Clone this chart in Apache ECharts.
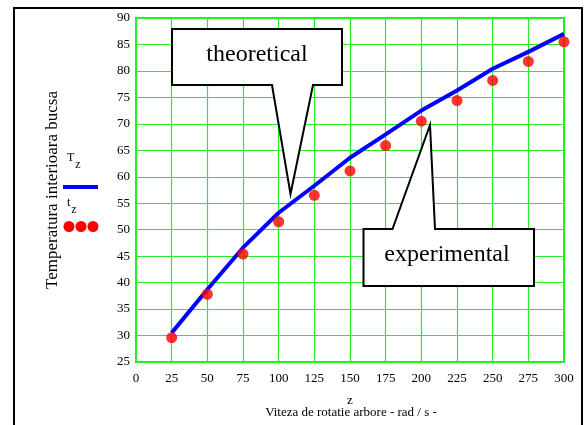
<!DOCTYPE html>
<html><head><meta charset="utf-8">
<script src="https://cdn.jsdelivr.net/npm/echarts@6/dist/echarts.min.js"></script>
<style>html,body{margin:0;padding:0;background:#fff}#c{width:585px;height:425px}</style>
</head><body><div id="c"></div>
<script>
var z = [25, 50, 75, 100, 125, 150, 175, 200, 225, 250, 275, 300];
var Tz = [30.5, 38.7, 46.6, 53.2, 58.3, 63.6, 68.0, 72.5, 76.3, 80.4, 83.6, 87.0];
var tz = [29.6, 37.8, 45.4, 51.5, 56.5, 61.1, 65.9, 70.5, 74.4, 78.2, 81.8, 85.5];
var xTicks = [0, 300, 25];
var yTicks = [25, 90, 5];

var F = '"Liberation Serif","DejaVu Serif",serif';
var G = '#22ee22';
var chart = echarts.init(document.getElementById('c'), null, {renderer: 'canvas'});
chart.setOption({
  animation: false,
  backgroundColor: '#fff',
  grid: {left: 136, right: 21, top: 18, bottom: 63, show: true, borderColor: G, borderWidth: 2, backgroundColor: 'transparent'},
  xAxis: {
    type: 'value', min: xTicks[0], max: xTicks[1], interval: xTicks[2],
    name: 'z', nameLocation: 'middle', nameGap: 32,
    nameTextStyle: {fontFamily: F, fontSize: 13, color: '#000'},
    axisLine: {show: true, lineStyle: {color: G, width: 2}},
    axisTick: {show: false},
    axisLabel: {fontFamily: F, fontSize: 13, color: '#000', margin: 10},
    splitLine: {show: true, lineStyle: {color: G, width: 1.2}}
  },
  yAxis: {
    type: 'value', min: yTicks[0], max: yTicks[1], interval: yTicks[2],
    axisLine: {show: true, lineStyle: {color: G, width: 2}},
    axisTick: {show: false},
    axisLabel: {fontFamily: F, fontSize: 13, color: '#000', margin: 6},
    splitLine: {show: true, lineStyle: {color: G, width: 1.2}}
  },
  series: [
    {type: 'line', data: z.map(function(v, i){return [v, Tz[i]];}), showSymbol: false, symbol: 'none',
     lineStyle: {color: '#0000ff', width: 4}, z: 3},
    {type: 'scatter', data: z.map(function(v, i){return [v, tz[i]];}), symbol: 'circle', symbolSize: 11,
     itemStyle: {color: '#ff0000'}, z: 4}
  ],
  graphic: [
    {type: 'rect', shape: {x: 14, y: 8, width: 568, height: 430}, style: {fill: 'none', stroke: '#000', lineWidth: 2}, z: 10},
    {type: 'text', style: {x: 351, y: 413, text: 'Viteza de rotatie arbore - rad / s -', font: '13px ' + F, fill: '#000', textAlign: 'center', textVerticalAlign: 'middle'}},
    {type: 'text', rotation: Math.PI / 2, x: 53, y: 190, style: {x: 0, y: 0, text: 'Temperatura interioara bucsa', font: '17px ' + F, fill: '#000', textAlign: 'center', textVerticalAlign: 'middle'}},
    {type: 'text', style: {x: 67, y: 158, text: '{a|T}{b|z}', rich: {a: {fontFamily: F, fontSize: 12, fill: '#000'}, b: {fontFamily: F, fontSize: 12, fill: '#000', padding: [14, 0, 0, 1]}}, textVerticalAlign: 'middle'}},
    {type: 'line', shape: {x1: 63, y1: 187, x2: 98, y2: 187}, style: {stroke: '#0000ff', lineWidth: 4}},
    {type: 'text', style: {x: 67, y: 203, text: '{a|t}{b|z}', rich: {a: {fontFamily: F, fontSize: 12, fill: '#000'}, b: {fontFamily: F, fontSize: 12, fill: '#000', padding: [14, 0, 0, 1]}}, textVerticalAlign: 'middle'}},
    {type: 'circle', shape: {cx: 69, cy: 226.5, r: 5.5}, style: {fill: '#ff0000'}},
    {type: 'circle', shape: {cx: 81, cy: 226.5, r: 5.5}, style: {fill: '#ff0000'}},
    {type: 'circle', shape: {cx: 93, cy: 226.5, r: 5.5}, style: {fill: '#ff0000'}},
    {type: 'polygon', shape: {points: [[172, 29], [342, 29], [342, 85], [313, 85], [290.5, 194], [272, 85], [172, 85]]},
     style: {fill: '#fff', stroke: '#000', lineWidth: 2}, z: 20},
    {type: 'text', style: {x: 257, y: 55, text: 'theoretical', font: '24px ' + F, fill: '#000', textAlign: 'center', textVerticalAlign: 'middle'}, z: 21},
    {type: 'polygon', shape: {points: [[363.5, 229], [392.5, 229], [430, 125], [435, 229], [534, 229], [534, 286], [363.5, 286]]},
     style: {fill: '#fff', stroke: '#000', lineWidth: 2}, z: 20},
    {type: 'text', style: {x: 447, y: 255, text: 'experimental', font: '24px ' + F, fill: '#000', textAlign: 'center', textVerticalAlign: 'middle'}, z: 21}
  ]
});
</script></body></html>
